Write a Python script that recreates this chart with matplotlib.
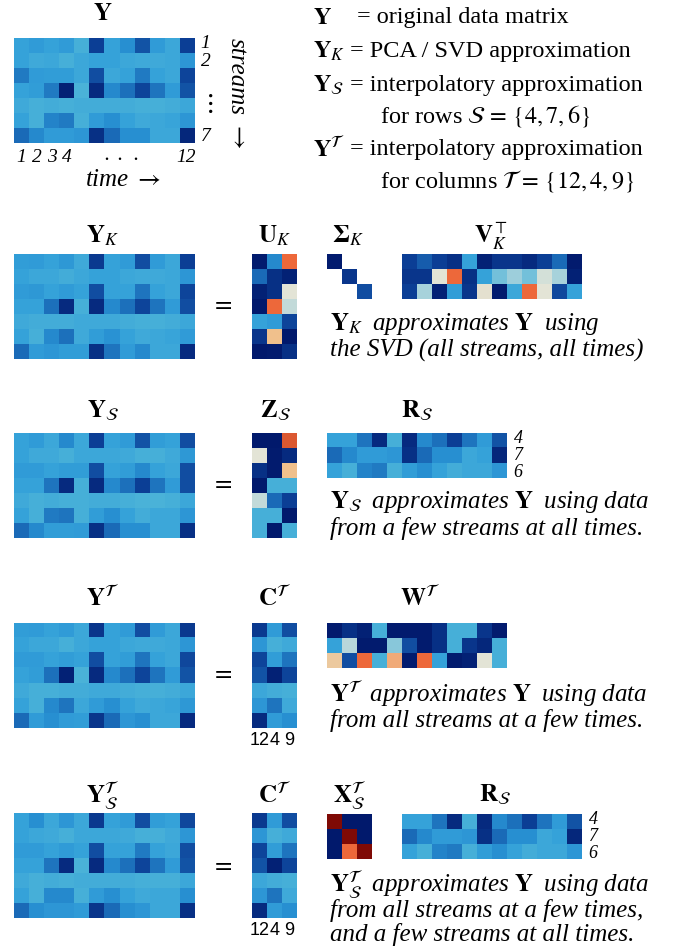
import numpy as np
import matplotlib
matplotlib.use('Agg')
import matplotlib.pyplot as plt
from matplotlib.colors import LinearSegmentedColormap, Normalize

W, H = 676, 950

plt.rcParams['font.family'] = ['Liberation Serif', 'DejaVu Serif']
plt.rcParams['mathtext.fontset'] = 'stix'

# colour levels, 0 = navy ... 1 = dark red
cmap = LinearSegmentedColormap.from_list('bluered', [
    (0.0, '#001466'), (0.15, '#0c3f96'), (0.3, '#1b6bb8'), (0.42, '#2890d2'),
    (0.5, '#35a2da'), (0.56, '#4ab2d8'), (0.64, '#9ecfdc'), (0.72, '#e3e5d8'),
    (0.8, '#f0c08c'), (0.88, '#f06a3c'), (1.0, '#7f0a05')])
cmap.set_bad('white')
norm = Normalize(0, 1)

Y = [
    [0.50, 0.47, 0.50, 0.47, 0.55, 0.15, 0.50, 0.42, 0.22, 0.47, 0.52, 0.15],
    [0.50, 0.53, 0.52, 0.55, 0.52, 0.50, 0.50, 0.52, 0.53, 0.53, 0.52, 0.45],
    [0.35, 0.47, 0.48, 0.48, 0.52, 0.20, 0.52, 0.50, 0.35, 0.50, 0.52, 0.17],
    [0.50, 0.48, 0.35, 0.05, 0.56, 0.08, 0.40, 0.32, 0.17, 0.33, 0.47, 0.22],
    [0.53, 0.55, 0.54, 0.55, 0.54, 0.54, 0.54, 0.54, 0.55, 0.55, 0.54, 0.52],
    [0.50, 0.55, 0.38, 0.35, 0.55, 0.47, 0.42, 0.50, 0.53, 0.52, 0.51, 0.45],
    [0.30, 0.40, 0.47, 0.47, 0.45, 0.10, 0.30, 0.42, 0.42, 0.52, 0.52, 0.07],
]
Y_K = [
    [0.48, 0.47, 0.50, 0.46, 0.53, 0.13, 0.50, 0.47, 0.20, 0.47, 0.52, 0.15],
    [0.50, 0.52, 0.52, 0.54, 0.52, 0.50, 0.50, 0.52, 0.53, 0.53, 0.52, 0.45],
    [0.47, 0.46, 0.50, 0.47, 0.50, 0.20, 0.50, 0.50, 0.33, 0.50, 0.52, 0.17],
    [0.50, 0.50, 0.32, 0.08, 0.55, 0.08, 0.40, 0.32, 0.17, 0.33, 0.47, 0.20],
    [0.53, 0.54, 0.54, 0.54, 0.53, 0.53, 0.53, 0.54, 0.55, 0.55, 0.54, 0.52],
    [0.50, 0.55, 0.40, 0.32, 0.53, 0.48, 0.43, 0.50, 0.53, 0.52, 0.51, 0.47],
    [0.30, 0.47, 0.45, 0.48, 0.48, 0.10, 0.33, 0.47, 0.40, 0.52, 0.52, 0.08],
]
U_K = [
    [0.03, 0.40, 0.88],
    [0.30, 0.10, 0.05],
    [0.05, 0.10, 0.72],
    [0.02, 0.88, 0.68],
    [0.50, 0.47, 0.17],
    [0.12, 0.80, 0.02],
    [0.02, 0.03, 0.10],
]
SIGMA_K = [
    [0.03, np.nan, np.nan],
    [np.nan, 0.12, np.nan],
    [np.nan, np.nan, 0.20],
]
V_K_T = [
    [0.15, 0.25, 0.15, 0.10, 0.50, 0.05, 0.12, 0.12, 0.08, 0.15, 0.30, 0.03],
    [0.12, 0.12, 0.72, 0.88, 0.10, 0.50, 0.60, 0.64, 0.60, 0.70, 0.65, 0.05],
    [0.15, 0.65, 0.05, 0.48, 0.12, 0.73, 0.03, 0.52, 0.88, 0.72, 0.18, 0.50],
]
Y_S = [
    [0.50, 0.47, 0.52, 0.40, 0.52, 0.15, 0.50, 0.47, 0.22, 0.48, 0.50, 0.20],
    [0.50, 0.53, 0.53, 0.55, 0.52, 0.52, 0.52, 0.53, 0.55, 0.55, 0.53, 0.46],
    [0.47, 0.47, 0.50, 0.48, 0.48, 0.20, 0.50, 0.48, 0.40, 0.50, 0.52, 0.20],
    [0.50, 0.50, 0.33, 0.08, 0.55, 0.08, 0.40, 0.32, 0.15, 0.33, 0.47, 0.20],
    [0.53, 0.55, 0.54, 0.55, 0.55, 0.54, 0.54, 0.55, 0.56, 0.56, 0.55, 0.52],
    [0.50, 0.55, 0.35, 0.33, 0.55, 0.48, 0.42, 0.50, 0.54, 0.52, 0.52, 0.45],
    [0.30, 0.40, 0.48, 0.48, 0.47, 0.10, 0.30, 0.42, 0.42, 0.52, 0.52, 0.10],
]
Z_S = [
    [0.02, 0.02, 0.90],
    [0.72, 0.03, 0.08],
    [0.10, 0.03, 0.80],
    [0.02, 0.55, 0.55],
    [0.68, 0.30, 0.15],
    [0.55, 0.55, 0.02],
    [0.55, 0.02, 0.55],
]
R_S = [
    [0.50, 0.50, 0.33, 0.08, 0.55, 0.08, 0.40, 0.32, 0.15, 0.33, 0.47, 0.22],
    [0.30, 0.40, 0.47, 0.47, 0.45, 0.10, 0.30, 0.42, 0.42, 0.52, 0.50, 0.07],
    [0.50, 0.55, 0.38, 0.35, 0.55, 0.48, 0.42, 0.50, 0.54, 0.52, 0.52, 0.45],
]
R_S_ROWS = ['4', '7', '6']
Y_T = [
    [0.48, 0.47, 0.50, 0.47, 0.52, 0.12, 0.50, 0.47, 0.20, 0.47, 0.52, 0.13],
    [0.50, 0.52, 0.52, 0.55, 0.52, 0.50, 0.50, 0.52, 0.53, 0.53, 0.52, 0.45],
    [0.47, 0.47, 0.50, 0.48, 0.50, 0.20, 0.50, 0.48, 0.33, 0.50, 0.52, 0.18],
    [0.50, 0.48, 0.32, 0.05, 0.56, 0.08, 0.40, 0.32, 0.17, 0.33, 0.47, 0.22],
    [0.53, 0.55, 0.55, 0.54, 0.54, 0.53, 0.53, 0.54, 0.55, 0.55, 0.54, 0.52],
    [0.50, 0.55, 0.40, 0.33, 0.52, 0.47, 0.42, 0.50, 0.53, 0.52, 0.51, 0.46],
    [0.30, 0.47, 0.42, 0.47, 0.48, 0.12, 0.30, 0.45, 0.42, 0.52, 0.52, 0.08],
]
C_T = [
    [0.13, 0.47, 0.20],
    [0.45, 0.55, 0.53],
    [0.17, 0.48, 0.33],
    [0.22, 0.05, 0.17],
    [0.52, 0.54, 0.55],
    [0.45, 0.33, 0.53],
    [0.08, 0.47, 0.42],
]
C_T_COLS = ['12', '4', '9']
W_T = [
    [0.03, 0.10, 0.05, 0.55, 0.03, 0.03, 0.03, 0.10, 0.55, 0.55, 0.12, 0.03],
    [0.50, 0.67, 0.03, 0.03, 0.62, 0.20, 0.03, 0.10, 0.55, 0.12, 0.07, 0.55],
    [0.78, 0.20, 0.88, 0.55, 0.82, 0.03, 0.88, 0.50, 0.03, 0.05, 0.72, 0.55],
]
Y_ST = [
    [0.50, 0.42, 0.52, 0.45, 0.52, 0.13, 0.50, 0.47, 0.20, 0.48, 0.50, 0.18],
    [0.50, 0.52, 0.53, 0.55, 0.52, 0.52, 0.52, 0.53, 0.55, 0.55, 0.53, 0.45],
    [0.47, 0.47, 0.50, 0.47, 0.50, 0.20, 0.50, 0.50, 0.35, 0.50, 0.52, 0.20],
    [0.50, 0.50, 0.33, 0.08, 0.56, 0.08, 0.40, 0.32, 0.17, 0.33, 0.47, 0.22],
    [0.53, 0.55, 0.54, 0.55, 0.54, 0.54, 0.54, 0.54, 0.55, 0.55, 0.55, 0.52],
    [0.50, 0.55, 0.40, 0.40, 0.55, 0.47, 0.42, 0.50, 0.53, 0.52, 0.52, 0.42],
    [0.30, 0.42, 0.45, 0.45, 0.47, 0.12, 0.30, 0.42, 0.45, 0.52, 0.52, 0.10],
]
X_ST = [
    [1.00, 0.02, 0.02],
    [0.02, 1.00, 0.02],
    [0.02, 0.88, 1.00],
]

fig = plt.figure(figsize=(W / 100, H / 100), dpi=100)
FS = 17.5   # legend lines
TS = 18     # matrix titles
CS = 18     # captions


def add_mat(x, y, w, h, data):
    ax = fig.add_axes([x / W, 1 - (y + h) / H, w / W, h / H])
    ax.imshow(np.array(data, dtype=float), cmap=cmap, norm=norm,
              interpolation='nearest', aspect='auto')
    ax.set_xticks([])
    ax.set_yticks([])
    for s in ax.spines.values():
        s.set_visible(False)
    return ax


def txt(x, y, s, ha='center', size=FS, **kw):
    fig.text(x / W, 1 - y / H, s, ha=ha, va='center', fontsize=size, **kw)


def row_labels(ax, labels):
    # labels a bit more spread than the rows, as in the original
    for i, lab in enumerate(labels):
        ax.text(len(R_S[0]) - 0.5 + 0.45, i + (i - 1) * 0.13, lab,
                fontstyle='italic', fontsize=13, ha='left', va='center')


def col_labels(ax, labels):
    ax.set_xticks(range(len(labels)))
    ax.set_xticklabels(labels, family='Liberation Sans', fontsize=13)
    ax.tick_params(axis='x', length=0, pad=3)


# --- top: original data matrix
txt(103, 14, r'$\mathbf{Y}$', size=TS)
ax = add_mat(14, 38, 180, 105, Y)
for lab, r in [('1', -0.15), ('2', 1.05), ('7', 6.1)]:
    ax.text(11.5 + 0.45, r, lab, fontstyle='italic', fontsize=14, ha='left', va='center')
ax.text(11.5 + 0.6, 3.9, r'$\vdots$', fontsize=19, ha='left', va='center')
ax.set_xticks([0, 1, 2, 3, 11])
ax.set_xticklabels(['1', '2', '3', '4', '12'], fontstyle='italic', fontsize=14)
ax.tick_params(axis='x', length=0, pad=4)
ax.text(6.6, 7.45, r'$\cdot\;\cdot\;\cdot$', fontsize=15, ha='center', va='center')
txt(237, 76, 'streams', rotation=-90, fontstyle='italic', size=18)
txt(237, 137, r'$\downarrow$', size=18)
txt(123, 180, r'time $\rightarrow$', fontstyle='italic', size=18)

# legend block on the right
txt(313, 18, r'$\mathbf{Y}$', ha='left')
txt(357, 18, '= original data matrix', ha='left')
txt(313, 51, r'$\mathbf{Y}_K$', ha='left')
txt(350, 51, '= PCA / SVD approximation', ha='left')
txt(313, 85, r'$\mathbf{Y}_\mathcal{S}$', ha='left')
txt(350, 85, '= interpolatory approximation', ha='left')
txt(380, 116, r'for rows $\mathcal{S} \,=\, \{4, 7, 6\}$', ha='left')
txt(313, 149, r'$\mathbf{Y}^\mathcal{T}$', ha='left')
txt(350, 149, '= interpolatory approximation', ha='left')
txt(380, 181, r'for columns $\mathcal{T} \,=\, \{12, 4, 9\}$', ha='left')

# --- PCA / SVD
txt(103, 236, r'$\mathbf{Y}_K$', size=TS)
txt(275, 236, r'$\mathbf{U}_K$', size=TS)
txt(348, 236, r'$\mathbf{\Sigma}_K$', size=TS)
txt(491, 236, r'$\mathbf{V}_K^\top$', size=TS)
add_mat(14, 254, 180, 105, Y_K)
txt(222, 304, '$=$', size=TS)
add_mat(252, 254, 45, 105, U_K)
add_mat(327, 254, 45, 45, SIGMA_K)
add_mat(402, 254, 180, 45, V_K_T)
txt(330, 324, r'$\mathbf{Y}_K\;$ approximates $\mathbf{Y}\;$ using', ha='left', size=CS, fontstyle='italic')
txt(330, 350, 'the SVD (all streams, all times)', ha='left', size=CS, fontstyle='italic')

# --- rows S
txt(103, 411, r'$\mathbf{Y}_\mathcal{S}$', size=TS)
txt(275, 411, r'$\mathbf{Z}_\mathcal{S}$', size=TS)
txt(417, 411, r'$\mathbf{R}_\mathcal{S}$', size=TS)
add_mat(14, 433, 180, 105, Y_S)
txt(222, 483, '$=$', size=TS)
add_mat(252, 433, 45, 105, Z_S)
ax = add_mat(327, 433, 180, 45, R_S)
row_labels(ax, R_S_ROWS)
txt(330, 502, r'$\mathbf{Y}_\mathcal{S}\;$ approximates $\mathbf{Y}\;$ using data', ha='left', size=CS, fontstyle='italic')
txt(330, 529, 'from a few streams at all times.', ha='left', size=CS, fontstyle='italic')

# --- columns T
txt(103, 598, r'$\mathbf{Y}^\mathcal{T}$', size=TS)
txt(275, 598, r'$\mathbf{C}^\mathcal{T}$', size=TS)
txt(420, 598, r'$\mathbf{W}^\mathcal{T}$', size=TS)
add_mat(14, 623, 180, 105, Y_T)
txt(222, 673, '$=$', size=TS)
ax = add_mat(252, 623, 45, 105, C_T)
col_labels(ax, C_T_COLS)
add_mat(327, 623, 180, 45, W_T)
txt(330, 694, r'$\mathbf{Y}^\mathcal{T}\;$ approximates $\mathbf{Y}\;$ using data', ha='left', size=CS, fontstyle='italic')
txt(330, 720, 'from all streams at a few times.', ha='left', size=CS, fontstyle='italic')

# --- rows and columns
txt(103, 795, r'$\mathbf{Y}_\mathcal{S}^\mathcal{T}$', size=TS)
txt(275, 795, r'$\mathbf{C}^\mathcal{T}$', size=TS)
txt(350, 795, r'$\mathbf{X}_\mathcal{S}^\mathcal{T}$', size=TS)
txt(495, 795, r'$\mathbf{R}_\mathcal{S}$', size=TS)
add_mat(14, 813, 180, 105, Y_ST)
txt(222, 865, '$=$', size=TS)
ax = add_mat(252, 813, 45, 105, C_T)
col_labels(ax, C_T_COLS)
add_mat(327, 814, 45, 45, X_ST)
ax = add_mat(402, 814, 180, 45, R_S)
row_labels(ax, R_S_ROWS)
txt(330, 884, r'$\mathbf{Y}_\mathcal{S}^\mathcal{T}\;$ approximates $\mathbf{Y}\;$ using data', ha='left', size=CS, fontstyle='italic')
txt(330, 910, 'from all streams at a few times,', ha='left', size=CS, fontstyle='italic')
txt(330, 935, 'and a few streams at all times.', ha='left', size=CS, fontstyle='italic')

fig.savefig('out.png', dpi=100)
